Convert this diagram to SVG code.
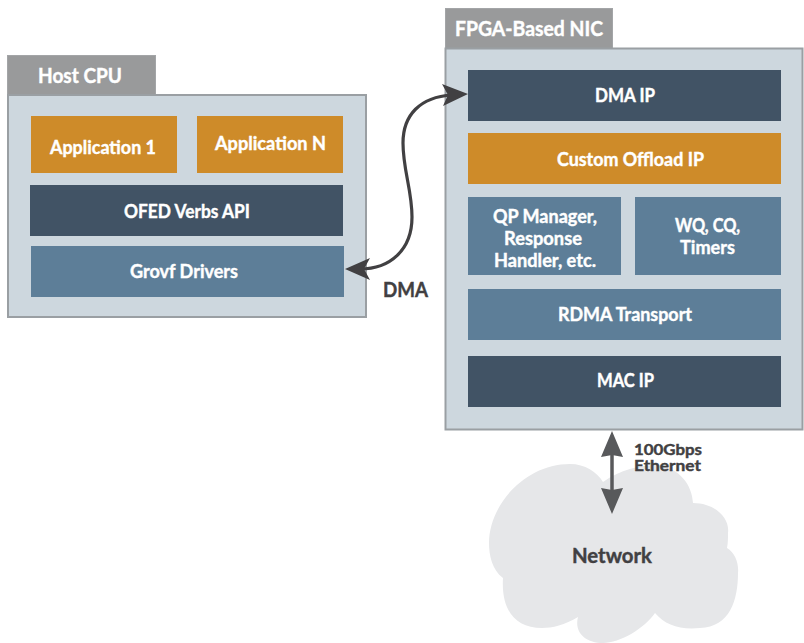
<svg xmlns="http://www.w3.org/2000/svg" width="804" height="643" viewBox="0 0 804 643">
<style>
text{font-family:"Lato","Open Sans","Liberation Sans",sans-serif;font-weight:700;text-anchor:middle;font-size:18.500px;fill:#fff;stroke:#fff;stroke-width:.4px}
.tab{fill:#999a9b;stroke:#a3a5a7;stroke-width:1}
.body{fill:#cdd7de;stroke:#9a9fa3;stroke-width:2}
.o{fill:#ce8b29}.d{fill:#415365}.m{fill:#5d7e98}
text.dk{fill:#414042;stroke:#414042}
text.sm{font-size:14.500px}
text.lg{font-size:20px}
</style>
<g id="network"><path d="M489 543 C489 505 525 464 570 464 C585 464 597 472 603 482 C620 470 640 465 657 465 C680 468 692 485 693 503 C715 503 730 518 728 533 C728 538 728 543 727 548 C735 553 739 563 738 573 C738 600 730 627 700 628 C680 630 665 625 655 613 C645 628 620 643 603 643 C585 643 574 632 578 617 C565 625 552 628 542 628 C515 628 501 610 503 578 C492 570 489 555 489 543 Z" fill="#e6e7e9"/><text class="dk lg" x="612" y="563" textLength="80" lengthAdjust="spacingAndGlyphs">Network</text></g>
<g id="host-cpu">
<rect class="tab" x="7.500" y="55.500" width="148" height="40"/>
<rect class="body" x="8" y="95" width="358" height="222"/>
<text class="lg" x="80" y="83" textLength="84" lengthAdjust="spacingAndGlyphs">Host CPU</text>
</g>
<g id="app1"><rect class="o" x="31" y="116" width="146" height="57"/><text x="103" y="154" textLength="106" lengthAdjust="spacingAndGlyphs">Application 1</text></g>
<g id="appn"><rect class="o" x="197" y="116" width="146" height="57"/><text x="270.500" y="150" textLength="111" lengthAdjust="spacingAndGlyphs">Application N</text></g>
<g id="ofed"><rect class="d" x="30" y="185" width="313" height="51"/><text x="187" y="218" textLength="126" lengthAdjust="spacingAndGlyphs">OFED Verbs API</text></g>
<g id="grovf"><rect class="m" x="31" y="246" width="313" height="51"/><text x="184" y="278" textLength="108" lengthAdjust="spacingAndGlyphs">Grovf Drivers</text></g>
<g id="fpga-nic">
<rect class="tab" x="445.500" y="8.500" width="167" height="40"/>
<rect class="body" x="445.500" y="48.500" width="357" height="381"/>
<text class="lg" x="529" y="36" textLength="148" lengthAdjust="spacingAndGlyphs">FPGA-Based NIC</text>
</g>
<g id="dma-ip"><rect class="d" x="468" y="70" width="313" height="51"/><text x="625" y="102" textLength="60" lengthAdjust="spacingAndGlyphs">DMA IP</text></g>
<g id="offload"><rect class="o" x="468" y="133" width="313" height="51"/><text x="630.500" y="166" textLength="147" lengthAdjust="spacingAndGlyphs">Custom Offload IP</text></g>
<g id="qp"><rect class="m" x="468" y="197" width="153" height="78"/><text x="545" y="222.500" textLength="104" lengthAdjust="spacingAndGlyphs">QP Manager,</text><text x="543" y="245" textLength="78" lengthAdjust="spacingAndGlyphs">Response</text><text x="545" y="267" textLength="102" lengthAdjust="spacingAndGlyphs">Handler, etc.</text></g>
<g id="wq"><rect class="m" x="635" y="197" width="146" height="78"/><text x="707.500" y="232" textLength="65" lengthAdjust="spacingAndGlyphs">WQ, CQ,</text><text x="707.500" y="254" textLength="55" lengthAdjust="spacingAndGlyphs">Timers</text></g>
<g id="rdma"><rect class="m" x="468" y="289" width="313" height="51"/><text x="625" y="321" textLength="134" lengthAdjust="spacingAndGlyphs">RDMA Transport</text></g>
<g id="mac"><rect class="d" x="468" y="356" width="313" height="51"/><text x="625.500" y="387" textLength="57" lengthAdjust="spacingAndGlyphs">MAC IP</text></g>
<g id="connectors">
<path d="M360 269 C390 269 412 250 412 217 C412 190 403 170 403 143 C403 115 420 97 452 95" fill="none" stroke="#414042" stroke-width="3.200"/>
<path d="M345 269 L370 258 L364 269 L370 280 Z M468 94 L442 84 L448 95 L443 106 Z" fill="#414042"/>
<path d="M612 440 V505" stroke="#58595b" stroke-width="3.500" fill="none"/>
<path d="M612 431 L623 457 L612 455 L601 457 Z M612 514 L623 488 L612 490 L601 488 Z" fill="#58595b"/>
</g>
<text class="dk lg" x="405.500" y="297" textLength="45" lengthAdjust="spacingAndGlyphs">DMA</text>
<text class="dk sm" x="668" y="455" textLength="68" lengthAdjust="spacingAndGlyphs">100Gbps</text>
<text class="dk sm" x="667.500" y="471" textLength="67" lengthAdjust="spacingAndGlyphs">Ethernet</text>
</svg>
